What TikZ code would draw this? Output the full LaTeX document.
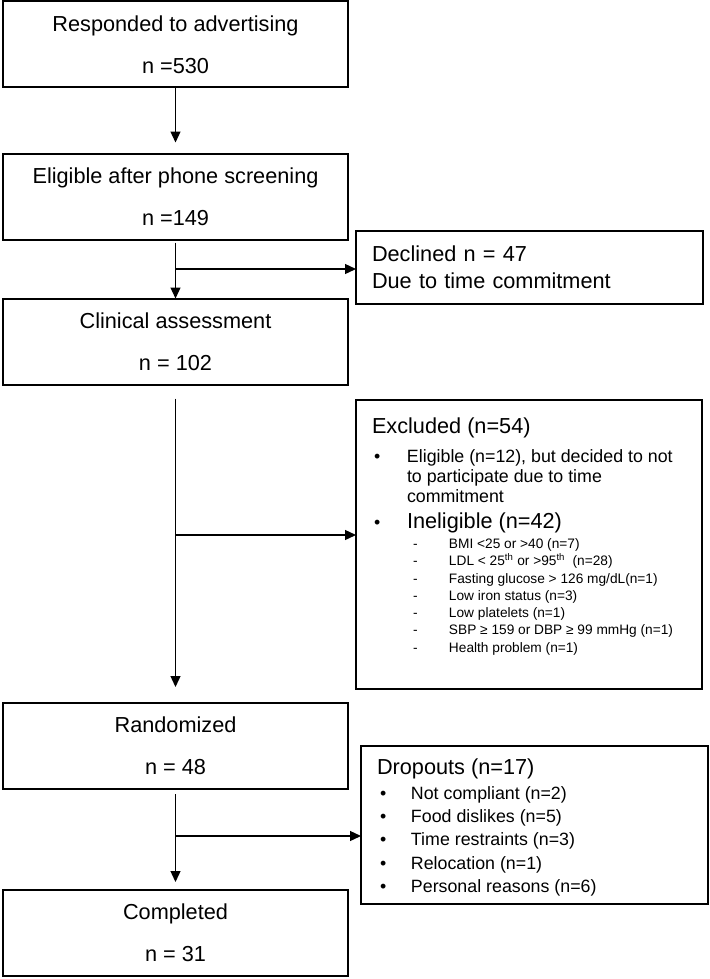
\documentclass[tikz,border=0pt]{standalone}
\usepackage{fontspec}
\setmainfont{Liberation Sans}
\usetikzlibrary{positioning,arrows.meta}

\newcommand{\bigsize}{\fontsize{21.7}{26}\selectfont}
\newcommand{\midsize}{\fontsize{17.8}{20}\selectfont}
\newcommand{\dashitem}[1]{\makebox[77pt][l]{\hspace{41pt}-}#1\par}

\tikzstyle{stage} = [rectangle, minimum width=345pt, minimum height=86pt, align=center, draw=black, line width=2pt, outer sep=0pt, font=\fontsize{21.7}{42}\selectfont]
\tikzstyle{sidebox} = [rectangle, draw=black, line width=2pt, outer sep=0pt, inner xsep=16pt]
\tikzstyle{arrow} = [line width=1.3pt,-{Triangle[length=11pt,width=10pt]}]

\begin{document}
\begin{tikzpicture}[node distance=66pt]

    \useasboundingbox (0,0) rectangle (709pt,-979pt);

    \node (responded) [stage] at (175.5pt,-44.5pt) {Responded to advertising\\n =530};
    \node (eligible) [stage, below=of responded] {Eligible after phone screening\\n =149};
    \node (clinical) [stage, below=59pt of eligible] {Clinical assessment\\n = 102};
    \node (randomized) [stage, below=318.5pt of clinical] {Randomized\\n = 48};
    \node (completed) [stage, below=101pt of randomized] {Completed\\n = 31};

    \node (declined) [sidebox, right=8pt of eligible, yshift=-71pt, minimum width=347pt, minimum height=73pt, text width=315pt, align=left, font=\fontsize{21.7}{27}\selectfont] {Declined n = 47\\Due to time commitment};

    \node (excluded) [sidebox, right=8pt of clinical, yshift=-203pt, inner ysep=18pt] {%
      \begin{minipage}[t][253pt][t]{314pt}\raggedright
        \bigsize Excluded (n=54)\par
        \midsize\vspace{8.4pt}
        \makebox[35pt][l]{\hspace{2pt}\textbullet}Eligible (n=12), but decided to not\par
        \hspace*{35pt}to participate due to time\par
        \hspace*{35pt}commitment\par
        \fontsize{21.7}{26.4}\selectfont
        \makebox[35pt][l]{\hspace{2pt}\midsize\textbullet}Ineligible (n=42)\par
        \fontsize{13.7}{17.25}\selectfont\vspace{2.95pt}
        \dashitem{BMI <25 or >40 (n=7)}
        \dashitem{LDL < 25\textsuperscript{th} or >95\textsuperscript{th}\ \ (n=28)}
        \dashitem{Fasting glucose > 126 mg/dL(n=1)}
        \dashitem{Low iron status (n=3)}
        \dashitem{Low platelets (n=1)}
        \dashitem{SBP ≥ 159 or DBP ≥ 99 mmHg (n=1)}
        \dashitem{Health problem (n=1)}
      \end{minipage}};

    \node (dropouts) [sidebox, right=13pt of randomized, yshift=-79pt, inner ysep=13.2pt] {%
      \begin{minipage}[t][131.6pt][t]{315pt}\raggedright
        \bigsize Dropouts (n=17)\par
        \fontsize{17.8}{23.25}\selectfont\vspace{1.15pt}
        \makebox[34pt][l]{\hspace{3pt}\textbullet}Not compliant (n=2)\par
        \makebox[34pt][l]{\hspace{3pt}\textbullet}Food dislikes (n=5)\par
        \makebox[34pt][l]{\hspace{3pt}\textbullet}Time restraints (n=3)\par
        \makebox[34pt][l]{\hspace{3pt}\textbullet}Relocation (n=1)\par
        \makebox[34pt][l]{\hspace{3pt}\textbullet}Personal reasons (n=6)\par
      \end{minipage}};

    \path (eligible.south) ++(0,-29.5pt) coordinate (split1);
    \path (clinical.south) ++(0,-150.5pt) coordinate (split2);
    \path (randomized.south) ++(0,-47pt) coordinate (split3);

    \draw [arrow, shorten >=11pt] (responded) -- (eligible);
    \draw [arrow, shorten <=3pt] (eligible) -- (clinical);
    \draw [arrow] (split1) -- (split1 -| declined.west);
    \draw [arrow, shorten <=14pt, shorten >=16pt] (clinical) -- (randomized);
    \draw [arrow] (split2) -- (split2 -| excluded.west);
    \draw [arrow, shorten <=5pt, shorten >=8pt] (randomized) -- (completed);
    \draw [arrow] (split3) -- (split3 -| dropouts.west);

\end{tikzpicture}
\end{document}
